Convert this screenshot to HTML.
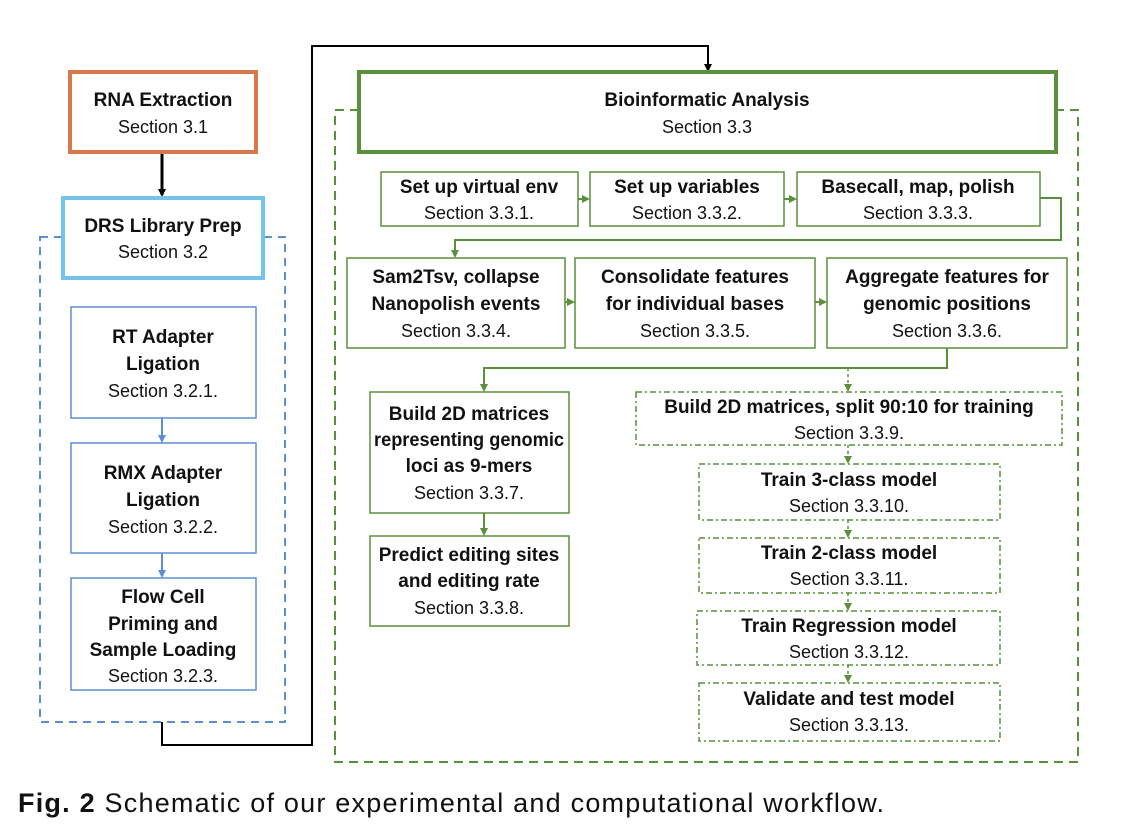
<!DOCTYPE html>
<html><head><meta charset="utf-8"><style>
html,body{margin:0;padding:0;background:#fff;}
svg{display:block;font-family:"Liberation Sans",sans-serif;}
.b{font-weight:bold;font-size:19px;fill:#111;}
.n{font-size:18px;fill:#111;}
</style></head><body>
<svg width="1132" height="831" viewBox="0 0 1132 831">
<defs>
<marker id="ak" markerWidth="8" markerHeight="8" refX="6" refY="4" orient="auto" markerUnits="userSpaceOnUse"><path d="M0,0L8,4L0,8z" fill="#000"/></marker>
<marker id="ab" markerWidth="8" markerHeight="8" refX="6" refY="4" orient="auto" markerUnits="userSpaceOnUse"><path d="M0,0L8,4L0,8z" fill="#5b8fcf"/></marker>
<marker id="ag" markerWidth="8" markerHeight="8" refX="6" refY="4" orient="auto" markerUnits="userSpaceOnUse"><path d="M0,0L8,4L0,8z" fill="#5a8f3c"/></marker>
</defs>
<rect x="40" y="237" width="245" height="485" fill="none" stroke="#5b8fcf" stroke-width="2" stroke-dasharray="8,6"/>
<rect x="335" y="110" width="743" height="652" fill="none" stroke="#5a8f3c" stroke-width="2" stroke-dasharray="9,6"/>
<polyline points="162,722 162,745 312,745 312,46 708,46 708,70" fill="none" stroke="#000" stroke-width="2" marker-end="url(#ak)"/>
<line x1="162" y1="152" x2="162" y2="195" stroke="#000" stroke-width="3" marker-end="url(#ak)"/>
<rect x="70" y="72" width="186" height="80" fill="#fff" stroke="#d9784a" stroke-width="4"/>
<text x="163" y="106" text-anchor="middle" class="b">RNA Extraction</text>
<text x="163" y="133" text-anchor="middle" class="n">Section 3.1</text>
<rect x="63" y="198" width="200" height="80" fill="#fff" stroke="#74c3ec" stroke-width="4"/>
<text x="163" y="232" text-anchor="middle" class="b">DRS Library Prep</text>
<text x="163" y="258" text-anchor="middle" class="n">Section 3.2</text>
<rect x="71" y="307" width="185" height="111" fill="#fff" stroke="#5b8fcf" stroke-width="1.5"/>
<text x="163" y="343" text-anchor="middle" class="b">RT Adapter</text>
<text x="163" y="370" text-anchor="middle" class="b">Ligation</text>
<text x="163" y="397" text-anchor="middle" class="n">Section 3.2.1.</text>
<line x1="162" y1="418" x2="162" y2="441" stroke="#5b8fcf" stroke-width="2" marker-end="url(#ab)"/>
<rect x="71" y="443" width="185" height="110" fill="#fff" stroke="#5b8fcf" stroke-width="1.5"/>
<text x="163" y="479" text-anchor="middle" class="b">RMX Adapter</text>
<text x="163" y="506" text-anchor="middle" class="b">Ligation</text>
<text x="163" y="533" text-anchor="middle" class="n">Section 3.2.2.</text>
<line x1="162" y1="553" x2="162" y2="576" stroke="#5b8fcf" stroke-width="2" marker-end="url(#ab)"/>
<rect x="71" y="578" width="185" height="112" fill="#fff" stroke="#5b8fcf" stroke-width="1.5"/>
<text x="163" y="603" text-anchor="middle" class="b">Flow Cell</text>
<text x="163" y="630" text-anchor="middle" class="b">Priming and</text>
<text x="163" y="656" text-anchor="middle" class="b">Sample Loading</text>
<text x="163" y="682" text-anchor="middle" class="n">Section 3.2.3.</text>
<rect x="359" y="72" width="697" height="80" fill="#fff" stroke="#5a8f3c" stroke-width="4"/>
<text x="707" y="106" text-anchor="middle" class="b">Bioinformatic Analysis</text>
<text x="707" y="133" text-anchor="middle" class="n">Section 3.3</text>
<g fill="#fff" stroke="#5a8f3c" stroke-width="1.5">
<rect x="381" y="172" width="197" height="54"/>
<rect x="590" y="172" width="194" height="54"/>
<rect x="797" y="172" width="243" height="54"/>
<rect x="347" y="258" width="218" height="90"/>
<rect x="575" y="258" width="240" height="90"/>
<rect x="827" y="258" width="240" height="90"/>
<rect x="370" y="392" width="199" height="121"/>
<rect x="370" y="536" width="199" height="90"/>
</g>
<g fill="#fff" stroke="#5a8f3c" stroke-width="1.5" stroke-dasharray="6,3,2,3">
<rect x="636" y="392" width="426" height="53"/>
<rect x="699" y="464" width="301" height="56"/>
<rect x="699" y="538" width="301" height="55"/>
<rect x="697" y="611" width="303" height="54"/>
<rect x="699" y="683" width="301" height="58"/>
</g>
<g stroke="#5a8f3c" stroke-width="2" fill="none">
<line x1="578" y1="199" x2="588" y2="199" marker-end="url(#ag)"/>
<line x1="784" y1="199" x2="795" y2="199" marker-end="url(#ag)"/>
<polyline points="1040,198 1061,198 1061,240 455,240 455,256" marker-end="url(#ag)"/>
<line x1="565" y1="302" x2="573" y2="302" marker-end="url(#ag)"/>
<line x1="815" y1="302" x2="825" y2="302" marker-end="url(#ag)"/>
<polyline points="947,348 947,368 484,368 484,390" marker-end="url(#ag)"/>
<line x1="484" y1="513" x2="484" y2="534" marker-end="url(#ag)"/>
<g stroke-dasharray="3,3" stroke-width="1.5">
<line x1="848" y1="368" x2="848" y2="390" marker-end="url(#ag)"/>
<line x1="848" y1="445" x2="848" y2="462" marker-end="url(#ag)"/>
<line x1="848" y1="520" x2="848" y2="536" marker-end="url(#ag)"/>
<line x1="848" y1="593" x2="848" y2="609" marker-end="url(#ag)"/>
<line x1="848" y1="665" x2="848" y2="681" marker-end="url(#ag)"/>
</g>
</g>
<g text-anchor="middle">
<text x="479" y="193" class="b">Set up virtual env</text><text x="479" y="219" class="n">Section 3.3.1.</text>
<text x="687" y="193" class="b">Set up variables</text><text x="687" y="219" class="n">Section 3.3.2.</text>
<text x="918" y="193" class="b">Basecall, map, polish</text><text x="918" y="219" class="n">Section 3.3.3.</text>
<text x="456" y="283" class="b">Sam2Tsv, collapse</text><text x="456" y="310" class="b">Nanopolish events</text><text x="456" y="337" class="n">Section 3.3.4.</text>
<text x="695" y="283" class="b">Consolidate features</text><text x="695" y="310" class="b">for individual bases</text><text x="695" y="337" class="n">Section 3.3.5.</text>
<text x="947" y="283" class="b">Aggregate features for</text><text x="947" y="310" class="b">genomic positions</text><text x="947" y="337" class="n">Section 3.3.6.</text>
<text x="469" y="420" class="b">Build 2D matrices</text><text x="469" y="446" class="b" textLength="190" lengthAdjust="spacingAndGlyphs">representing genomic</text><text x="469" y="472" class="b">loci as 9-mers</text><text x="469" y="499" class="n">Section 3.3.7.</text>
<text x="469" y="561" class="b">Predict editing sites</text><text x="469" y="587" class="b">and editing rate</text><text x="469" y="614" class="n">Section 3.3.8.</text>
<text x="849" y="413" class="b">Build 2D matrices, split 90:10 for training</text><text x="849" y="439" class="n">Section 3.3.9.</text>
<text x="849" y="486" class="b">Train 3-class model</text><text x="849" y="512" class="n">Section 3.3.10.</text>
<text x="849" y="559" class="b">Train 2-class model</text><text x="849" y="585" class="n">Section 3.3.11.</text>
<text x="849" y="632" class="b">Train Regression model</text><text x="849" y="658" class="n">Section 3.3.12.</text>
<text x="849" y="705" class="b">Validate and test model</text><text x="849" y="731" class="n">Section 3.3.13.</text>
</g>
<text x="18" y="812" textLength="866" lengthAdjust="spacing" style="font-size:27px;fill:#111"><tspan font-weight="bold">Fig. 2</tspan>  Schematic of our experimental and computational workflow.</text>
</svg>
</body></html>
